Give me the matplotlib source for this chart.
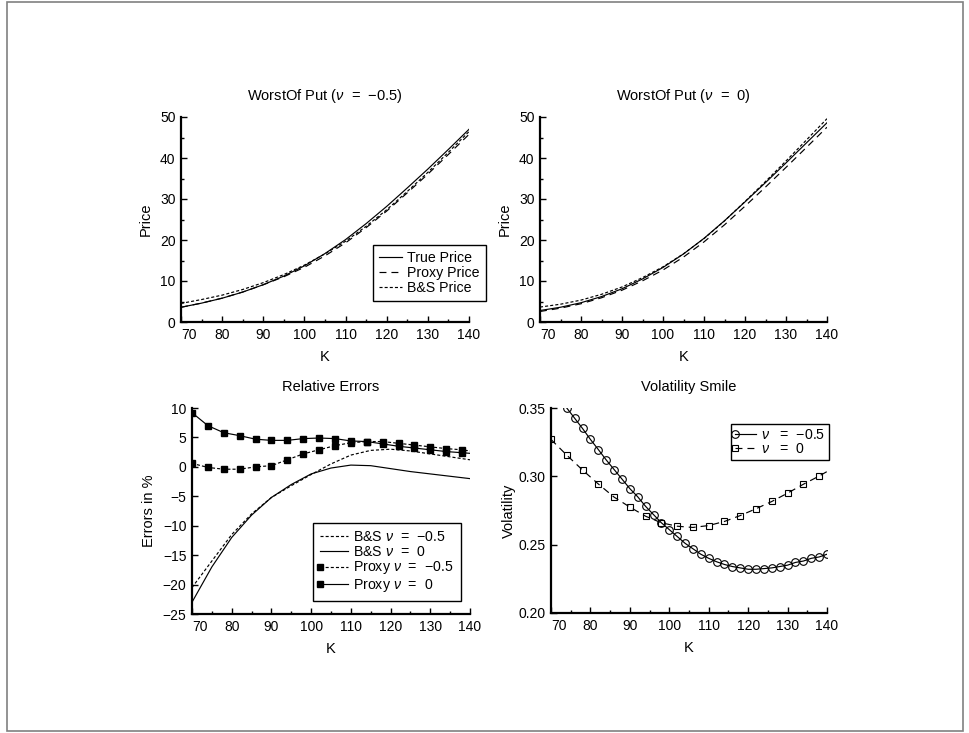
import matplotlib
matplotlib.use('Agg')
import matplotlib.pyplot as plt
from matplotlib.lines import Line2D
from matplotlib.patches import Rectangle
from matplotlib.legend_handler import HandlerLine2D

plt.rcParams['font.family'] = ['Liberation Sans', 'DejaVu Sans']
plt.rcParams['mathtext.fontset'] = 'custom'
plt.rcParams['mathtext.rm'] = 'Liberation Sans'
plt.rcParams['mathtext.it'] = 'Liberation Sans:italic'
plt.rcParams['lines.scale_dashes'] = False
plt.rcParams['font.size'] = 10

# strikes on a 5 grid (price curves, B&S errors)
strikes = [70, 75, 80, 85, 90, 95, 100, 105, 110, 115, 120, 125, 130, 135, 140]

# worst-of put prices, nu = -0.5
true_m05 = [3.6, 4.6, 5.8, 7.3, 9.1, 11.2, 13.7, 16.7, 20.1, 24.0, 28.2, 32.7, 37.3, 42.1, 47.0]
proxy_m05 = [3.58, 4.61, 5.82, 7.31, 9.08, 11.04, 13.35, 16.14, 19.31, 23.01, 27.06, 31.5, 36.07, 40.87, 45.76]
bs_m05 = [4.53, 5.48, 6.55, 7.93, 9.6, 11.57, 13.88, 16.62, 19.7, 23.35, 27.38, 31.84, 36.5, 41.4, 46.44]

# worst-of put prices, nu = 0
true_0 = [2.8, 3.6, 4.7, 6.2, 8.1, 10.5, 13.3, 16.6, 20.4, 24.7, 29.3, 34.0, 38.8, 43.7, 48.6]
proxy_0 = [2.56, 3.38, 4.45, 5.91, 7.75, 10.04, 12.68, 15.84, 19.54, 23.7, 28.25, 32.91, 37.71, 42.59, 47.51]
bs_0 = [3.64, 4.34, 5.34, 6.75, 8.54, 10.82, 13.46, 16.63, 20.34, 24.65, 29.39, 34.27, 39.27, 44.41, 49.59]

# relative errors (%)
err_bs_m05 = [-20.5, -16.0, -11.5, -8.0, -5.2, -3.2, -1.3, 0.5, 2.0, 2.8, 3.0, 2.7, 2.2, 1.7, 1.2]
err_bs_0 = [-23.0, -17.0, -12.0, -8.2, -5.2, -3.0, -1.2, -0.2, 0.3, 0.2, -0.3, -0.8, -1.2, -1.6, -2.0]

strikes4 = [70, 74, 78, 82, 86, 90, 94, 98, 102, 106, 110, 114, 118, 122, 126, 130, 134, 138, 140]
err_px_m05 = [0.6, -0.1, -0.4, -0.4, 0.0, 0.2, 1.2, 2.2, 2.9, 3.6, 4.1, 4.3, 4.3, 4.0, 3.7, 3.4, 3.1, 2.9, 2.7]
err_px_0 = [9.2, 7.0, 5.8, 5.3, 4.7, 4.5, 4.5, 4.8, 4.9, 4.8, 4.4, 4.3, 3.9, 3.5, 3.2, 2.9, 2.6, 2.4, 2.3]

# volatility smile
strikes2 = [70, 72, 74, 76, 78, 80, 82, 84, 86, 88, 90, 92, 94, 96, 98, 100, 102, 104, 106,
            108, 110, 112, 114, 116, 118, 120, 122, 124, 126, 128, 130, 132, 134, 136, 138, 140]
vol_m05 = [0.365, 0.357, 0.350, 0.3425, 0.335, 0.327, 0.3196, 0.312, 0.305, 0.298, 0.291, 0.285,
           0.278, 0.272, 0.266, 0.261, 0.256, 0.251, 0.247, 0.243, 0.240, 0.2375, 0.2355, 0.234,
           0.233, 0.232, 0.232, 0.2325, 0.233, 0.234, 0.235, 0.237, 0.238, 0.240, 0.241, 0.243]
strikes_sq = [70, 74, 78, 82, 86, 90, 94, 98, 102, 106, 110, 114, 118, 122, 126, 130, 134, 138, 140]
vol_0 = [0.327, 0.3155, 0.3046, 0.2944, 0.2848, 0.2775, 0.2708, 0.266, 0.2635, 0.2626, 0.264,
         0.267, 0.2713, 0.2763, 0.2816, 0.2877, 0.2942, 0.3002, 0.3035]

LONG = (0, (5, 3.6))
SHORT = (0, (2.2, 1.5))
lw = 0.85

W, H = 970, 733
fig = plt.figure(figsize=(W / 100, H / 100), dpi=100)


class LeftMarker(HandlerLine2D):
    # marker only at the left end of the legend line
    def create_artists(self, *args, **kwargs):
        arts = super().create_artists(*args, **kwargs)
        for a in arts:
            a.set_markevery([0])
        return arts


def px_axes(x0, x1, ytop, ybot):
    return fig.add_axes([x0 / W, 1 - ybot / H, (x1 - x0) / W, (ybot - ytop) / H])


def style(ax, xlabel, ylabel, title, yticks, yminor, fmt=None, ypad=5):
    for s in ['top', 'right']:
        ax.spines[s].set_visible(False)
    for s in ['left', 'bottom']:
        ax.spines[s].set_linewidth(1.6)
    ax.set_xlim(70, 140)
    ax.set_xticks(range(70, 141, 10))
    ax.set_xticks(range(75, 140, 10), minor=True)
    ax.set_yticks(yticks)
    ax.set_yticks(yminor, minor=True)
    ax.set_ylim(yticks[0], yticks[-1])
    if fmt:
        ax.set_yticklabels([fmt % v for v in yticks])
    ax.tick_params(which='major', direction='in', length=4, width=1, labelsize=10, pad=4)
    ax.tick_params(which='minor', direction='in', length=2.5, width=1)
    ax.xaxis.get_major_ticks()[0].label1.set_horizontalalignment('left')
    ax.set_xlabel(xlabel, labelpad=6, fontsize=10.5)
    ax.set_ylabel(ylabel, labelpad=ypad, fontsize=10.5)
    ax.set_title(title, pad=12, fontsize=10.5)


def legend(ax, handles, labels, x0, y0, **kw):
    leg = ax.legend(handles, labels, loc='upper left', bbox_to_anchor=(x0 / W, 1 - y0 / H),
                    bbox_transform=fig.transFigure, borderaxespad=0, fancybox=False,
                    edgecolor='black', framealpha=1, labelspacing=0.05, handletextpad=0.35,
                    fontsize=10.2, **kw)
    leg.get_frame().set_linewidth(1.0)
    return leg


# top-left
ax1 = px_axes(181, 469, 117, 322)
l1, = ax1.plot(strikes, true_m05, color='black', lw=lw)
l2, = ax1.plot(strikes, proxy_m05, color='black', lw=lw, linestyle=LONG)
l3, = ax1.plot(strikes, bs_m05, color='black', lw=lw, linestyle=SHORT)
style(ax1, 'K', 'Price', r'WorstOf Put ($\nu$  =  $-$0.5)', list(range(0, 51, 10)), list(range(5, 50, 10)))
legend(ax1, [l1, l2, l3], ['True Price', 'Proxy Price', 'B&S Price'], 373, 245,
       handlelength=1.6, borderpad=0.45)

# top-right
ax2 = px_axes(540, 827, 117, 322)
ax2.plot(strikes, true_0, color='black', lw=lw)
ax2.plot(strikes, proxy_0, color='black', lw=lw, linestyle=LONG)
ax2.plot(strikes, bs_0, color='black', lw=lw, linestyle=SHORT)
style(ax2, 'K', 'Price', r'WorstOf Put ($\nu$  =  0)', list(range(0, 51, 10)), list(range(5, 50, 10)))

# bottom-left
ax3 = px_axes(192, 470, 408, 614)
ax3.plot(strikes, err_bs_m05, color='black', lw=lw, linestyle=SHORT)
ax3.plot(strikes, err_bs_0, color='black', lw=lw)
ax3.plot(strikes4, err_px_m05, color='black', lw=lw, linestyle=SHORT,
         marker='s', ms=5, markevery=list(range(18)))
ax3.plot(strikes4, err_px_0, color='black', lw=lw,
         marker='s', ms=5, markevery=list(range(18)))
style(ax3, 'K', 'Errors in %', 'Relative Errors', list(range(-25, 11, 5)), [])
h = [Line2D([], [], color='black', lw=lw, linestyle=SHORT),
     Line2D([], [], color='black', lw=lw),
     Line2D([], [], color='black', lw=lw, linestyle=SHORT, marker='s', ms=5),
     Line2D([], [], color='black', lw=lw, marker='s', ms=5)]
legend(ax3, h, [r'B&S $\nu$  =  $-$0.5', r'B&S $\nu$  =  0', r'Proxy $\nu$  =  $-$0.5', r'Proxy $\nu$  =  0'],
       313, 523, handlelength=2.0, numpoints=2, borderpad=0.5,
       handler_map={Line2D: LeftMarker(numpoints=2, marker_pad=0)})

# bottom-right
ax4 = px_axes(551, 827, 408, 613)
ax4.plot(strikes2, vol_m05, color='black', lw=lw, marker='o', ms=5.5, mfc='none', mew=0.8)
ax4.plot(strikes_sq, vol_0, color='black', lw=lw, linestyle=LONG, marker='s', ms=5,
         mfc='none', mew=0.8, markevery=list(range(18)))
style(ax4, 'K', 'Volatility', 'Volatility Smile', [0.20, 0.25, 0.30, 0.35], [], fmt='%.2f', ypad=2)
h = [Line2D([], [], color='black', lw=lw, marker='o', ms=5.5, mfc='none', mew=0.8),
     Line2D([], [], color='black', lw=lw, linestyle=LONG, marker='s', ms=5, mfc='none', mew=0.8)]
legend(ax4, h, [r'$\nu$   =  $-$0.5', r'$\nu$   =  0'], 731, 424, handlelength=1.5,
       numpoints=2, borderpad=0.25, handler_map={Line2D: LeftMarker(numpoints=2, marker_pad=0)})

# outer frame
fig.patches.append(Rectangle((7 / W, 2 / H), 956 / W, 729 / H, transform=fig.transFigure,
                             fill=False, edgecolor='#808080', lw=1.2))

fig.savefig('out.png', dpi=100)
